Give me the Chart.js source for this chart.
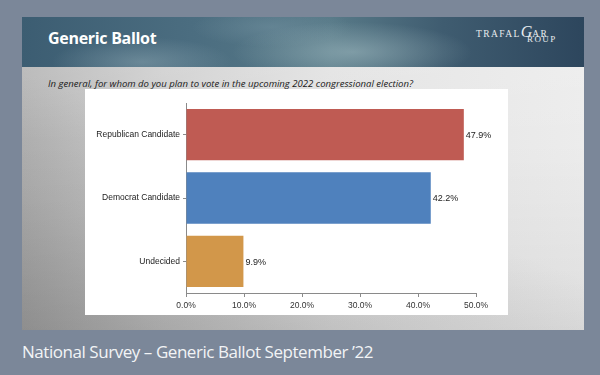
<!DOCTYPE html>
<html>
<head>
<meta charset="utf-8">
<script src="https://cdn.jsdelivr.net/npm/chart.js@4.4.0/dist/chart.umd.min.js"></script>
<style>
  html,body{margin:0;padding:0;}
  body{width:600px;height:375px;background:#7b8799;position:relative;overflow:hidden;font-family:"Open Sans",sans-serif;}
  #slide{position:absolute;left:22px;top:17px;width:562px;height:313px;
    background:
      linear-gradient(180deg,rgba(255,255,255,0.18) 0%,rgba(255,255,255,0) 40%,rgba(0,0,0,0.06) 100%),
      linear-gradient(90deg,#b4b4b4 0%,#cfcfcf 25%,#e2e2e2 55%,#ececec 100%);}
  #slideshade{position:absolute;left:0;top:50px;width:100%;height:263px;
    background:linear-gradient(20deg,rgba(70,70,70,0.28) 0%,rgba(90,90,90,0.12) 30%,rgba(255,255,255,0) 55%);}
  #header{position:absolute;left:0;top:0;width:562px;height:50px;
    background:
      radial-gradient(ellipse 120px 30px at 330px 35px, rgba(170,195,200,0.5), rgba(0,0,0,0)),
      radial-gradient(ellipse 90px 25px at 120px 45px, rgba(150,175,185,0.45), rgba(0,0,0,0)),
      radial-gradient(ellipse 80px 20px at 250px 10px, rgba(120,150,165,0.45), rgba(0,0,0,0)),
      linear-gradient(90deg,#3c5d72 0%,#4b6d80 30%,#587a88 55%,#3f5c70 75%,#2d465d 100%);}
  #title{position:absolute;left:26px;top:10px;color:#fff;font-family:"Open Sans",sans-serif;font-weight:700;font-size:16px;letter-spacing:-0.3px;}
  #logo{position:absolute;left:454px;top:6px;color:#e8ecef;font-family:"Liberation Serif",serif;font-size:9.5px;letter-spacing:1.4px;}
  #logo .g{font-style:italic;font-size:16px;letter-spacing:0;}
  #logo2{position:absolute;left:505px;top:17px;color:#e8ecef;font-family:"Liberation Serif",serif;font-size:9px;letter-spacing:1.4px;}
  #question{position:absolute;left:26px;top:60px;color:#1a1a1a;font-family:"Open Sans",sans-serif;font-style:italic;font-size:9.55px;}
  #box{position:absolute;left:63px;top:72px;width:423px;height:226px;background:#fff;}
  #caption{position:absolute;left:22px;top:340px;color:#f2f4f6;font-family:"Open Sans",sans-serif;font-size:17px;letter-spacing:-0.45px;}
</style>
</head>
<body>
<div id="slide">
  <div id="slideshade"></div>
  <div id="header">
    <div id="title">Generic Ballot</div>
    <div id="logo">TRAFAL<span class="g">G</span>AR</div>
    <div id="logo2">ROUP</div>
  </div>
  <div id="question">In general, for whom do you plan to vote in the upcoming 2022 congressional election?</div>
  <div id="box"><canvas id="c" width="423" height="226"></canvas></div>
</div>
<div id="caption">National Survey – Generic Ballot September ’22</div>
<script>
const categories = ["Republican Candidate", "Democrat Candidate", "Undecided"];
const values = [47.9, 42.2, 9.9];
const barColors = ["#bf5b53", "#4f81bd", "#d2974a"];
const tickValues = [0, 10, 20, 30, 40, 50];

const labelPlugin = {
  id: "barLabels",
  afterDatasetsDraw(chart) {
    const ctx = chart.ctx;
    const meta = chart.getDatasetMeta(0);
    ctx.save();
    ctx.font = "9px 'Liberation Sans', Arial, sans-serif";
    ctx.fillStyle = "#222";
    ctx.textAlign = "left";
    ctx.textBaseline = "middle";
    meta.data.forEach((bar, i) => {
      ctx.fillText(values[i].toFixed(1) + "%", bar.x + 2, bar.y + 1);
    });
    ctx.restore();
  }
};

new Chart(document.getElementById("c"), {
  type: "bar",
  data: {
    labels: categories,
    datasets: [{
      data: values,
      backgroundColor: barColors,
      borderWidth: 0,
      barPercentage: 0.81,
      categoryPercentage: 1.0
    }]
  },
  options: {
    indexAxis: "y",
    responsive: false,
    animation: false,
    layout: { padding: { top: 14, right: 32, bottom: 0, left: 0 } },
    plugins: { legend: { display: false }, tooltip: { enabled: false } },
    scales: {
      x: {
        min: 0, max: 50,
        afterBuildTicks(scale) { scale.ticks = tickValues.map(v => ({ value: v })); },
        afterFit(scale) { scale.height = 22; },
        border: { color: "#8a8a8a", width: 1 },
        grid: { display: true, drawOnChartArea: false, drawTicks: true, tickLength: 4, color: "#8a8a8a" },
        ticks: {
          padding: 4,
          color: "#333",
          font: { family: "'Liberation Sans', Arial, sans-serif", size: 8.5 },
          callback: v => Number(v).toFixed(1) + "%"
        }
      },
      y: {
        afterFit(scale) { scale.width = 101; },
        border: { color: "#8a8a8a", width: 1 },
        grid: { display: true, offset: false, drawOnChartArea: false, drawTicks: true, tickLength: 3, color: "#8a8a8a" },
        ticks: {
          padding: 3,
          color: "#222",
          font: { family: "'Liberation Sans', Arial, sans-serif", size: 8.5 }
        }
      }
    }
  },
  plugins: [labelPlugin]
});
</script>
</body>
</html>
